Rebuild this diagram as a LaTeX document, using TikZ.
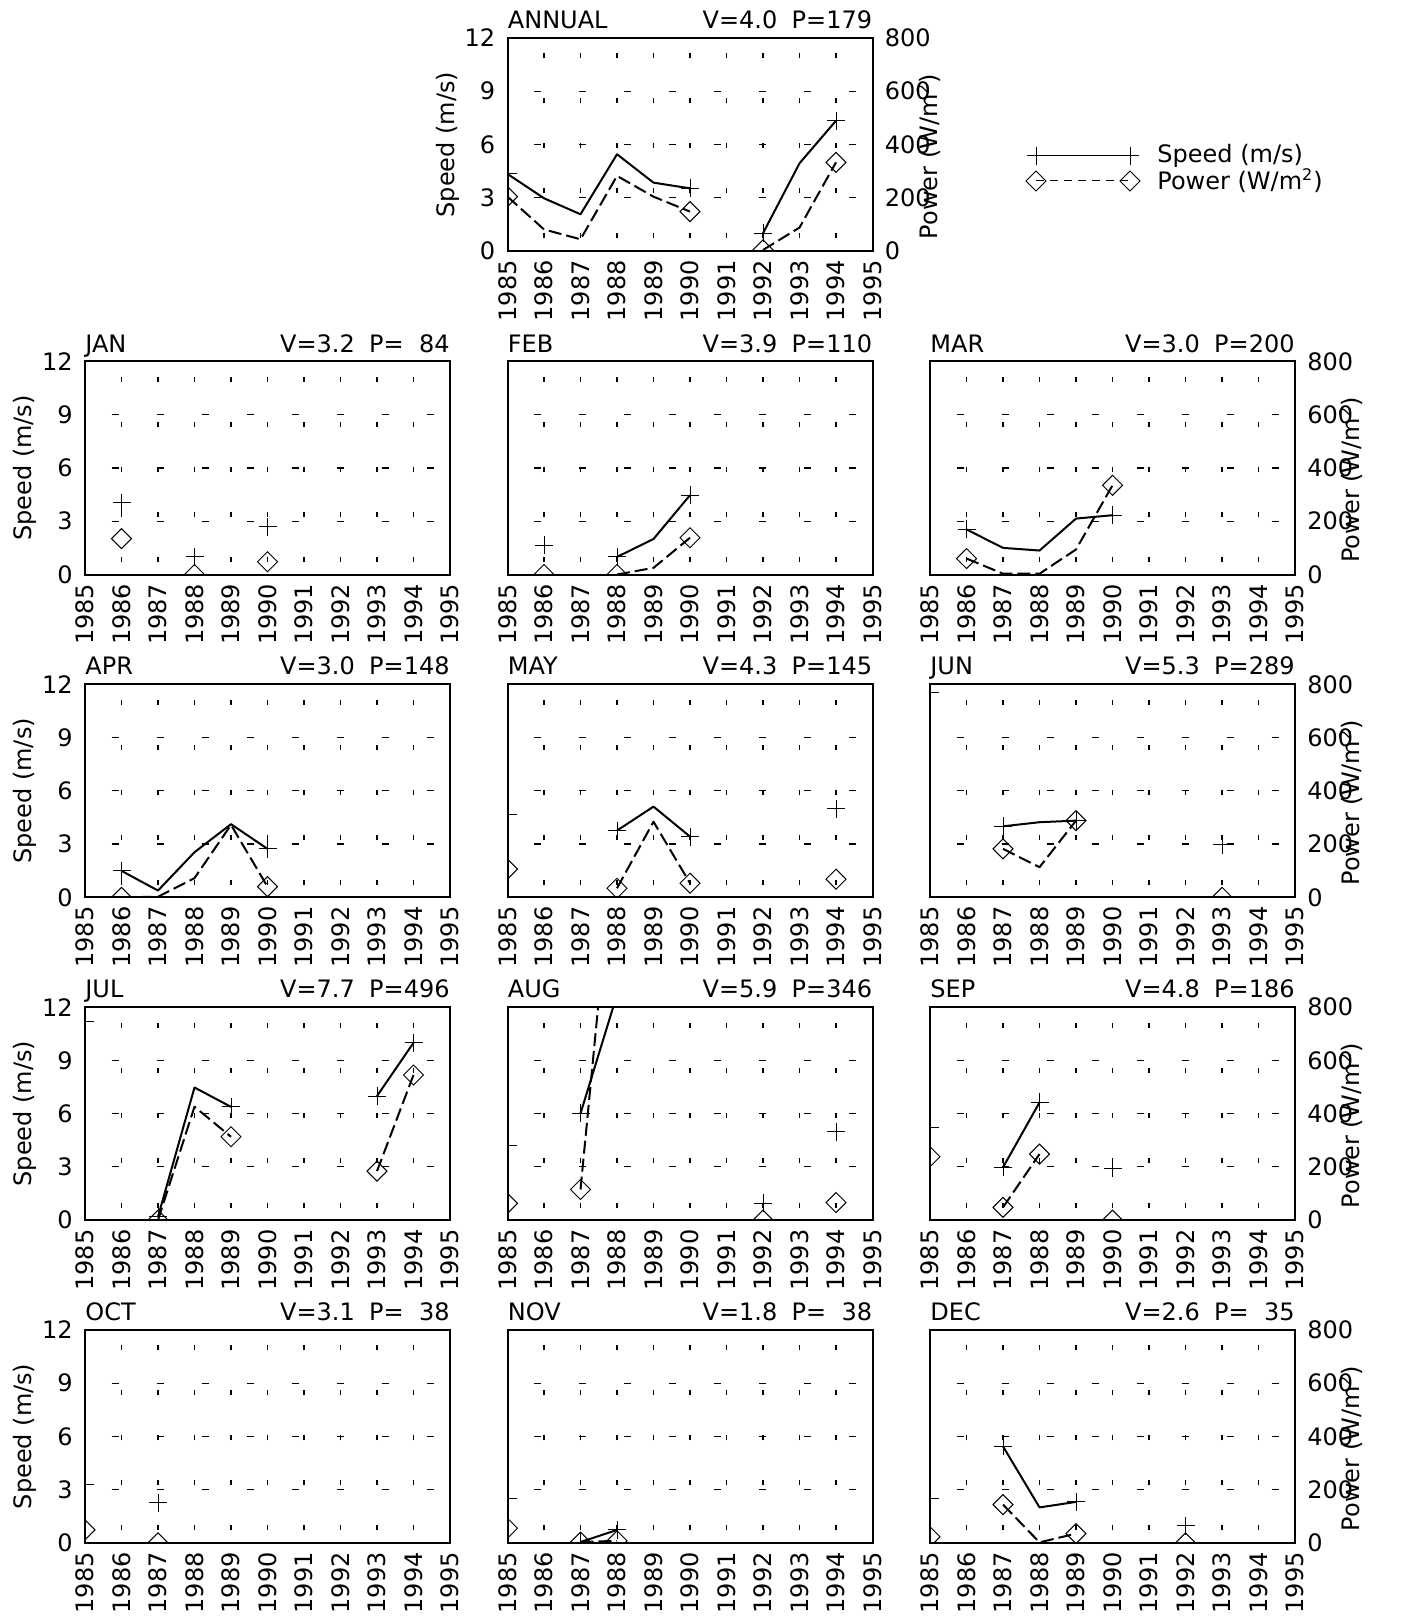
\documentclass[tikz,border=0pt]{standalone}
\usepackage{fontspec}
\setmainfont{DejaVu Sans}
\tikzset{
  yearpanel/.style 2 args={shift={(#1,#2)}, x=18.25pt, y=8.875pt, shift={(-85,0)}},
  pwrscale/.style={y=0.133125pt},
  boxline/.style={line width=1pt},
  gridv/.style={line width=0.6pt, dash pattern=on 2.5pt off 20pt, dash phase=16.25pt},
  gridh/.style={line width=0.6pt, dash pattern=on 3.5pt off 19pt, dash phase=9.15pt},
  spd/.style={line width=1pt, line join=round},
  pwr/.style={line width=1pt, line join=round, dash pattern=on 6.5pt off 2.5pt},
  mk/.style={line width=0.5pt},
  lab/.style={inner sep=0pt, font=\fontsize{12pt}{14pt}\selectfont},
  plus/.pic={\draw[mk] (-4.5pt,0) -- (4.5pt,0) (0,-4.5pt) -- (0,4.5pt);},
  dmnd/.pic={\draw[mk] (-5pt,0) -- (0,5pt) -- (5pt,0) -- (0,-5pt) -- cycle;}
}
\newcommand{\gap}{\hspace{0.6em}}
% frame, grid, titles and year labels of one panel
\newcommand{\panelbox}[3]{%
  \foreach \yr in {86,...,94} \draw[gridv] (\yr,0) -- (\yr,12);
  \foreach \v in {3,6,9} \draw[gridh] (85,\v) -- (95,\v);
  \draw[boxline] (85,0) rectangle (95,12);
  \node[lab, anchor=base west] (#1-month) at ([yshift=4.7pt]85,12) {#2};
  \node[lab, anchor=base east] (#1-stats) at ([yshift=4.7pt]95,12) {#3};
  \foreach \yr in {85,...,95}
    \node[lab, rotate=90, anchor=east] (#1-yr\yr) at ([yshift=-4.5pt]\yr,0) {19\yr};
}
\newcommand{\speedaxis}[1]{%
  \foreach \v in {0,3,...,12}
    \node[lab, anchor=east] (#1-s\v) at ([xshift=-6pt]85,\v) {\v};
  \node[lab, rotate=90] (#1-stitle) at ([xshift=-30pt]85,6) {Speed (m/s)};
}
\newcommand{\poweraxis}[1]{%
  \foreach \v/\p in {0/0,3/200,6/400,9/600,12/800}
    \node[lab, anchor=west] (#1-p\p) at ([xshift=6pt]95,\v) {\p};
  \node[lab, rotate=90] (#1-ptitle) at ([xshift=28pt,yshift=-6pt]95,6) {Power (W/m\textsuperscript{2})};
}
\newcommand{\speedline}[1]{\draw[spd] plot coordinates {#1};}
\newcommand{\powerline}[1]{\draw[pwr] plot coordinates {#1};}
\newcommand{\pluses}[1]{\foreach \yr/\v in {#1} \pic at (\yr,\v) {plus};}
\newcommand{\diamonds}[1]{\foreach \yr/\v in {#1} \pic at (\yr,\v) {dmnd};}

\begin{document}
\begin{tikzpicture}[x=0.5pt, y=-0.5pt]
\useasboundingbox (0,0) rectangle (1405,1620);

% ANNUAL
\begin{scope}[yearpanel={507.5}{251}]
  \panelbox{ann}{ANNUAL}{V=4.0\gap P=179}
  \speedaxis{ann}
  \poweraxis{ann}
  \begin{scope}
    \clip (85,0) rectangle (95,12);
    \speedline{(85,4.34) (86,2.97) (87,2.07) (88,5.45) (89,3.85) (90,3.53)}
    \speedline{(92,1.0) (93,4.94) (94,7.34)}
    \pluses{85/4.34, 90/3.53, 92/1.0, 94/7.34}
    \begin{scope}[pwrscale]
      \powerline{(85,204) (86,81) (87,44) (88,282) (89,204) (90,148)}
      \powerline{(92,4) (93,88) (94,333)}
      \diamonds{85/204, 90/148, 92/4, 94/333}
    \end{scope}
  \end{scope}
\end{scope}

% legend
\coordinate (legs-a) at (1036,155.7);
\coordinate (legs-b) at (1130,155.7);
\coordinate (legp-a) at (1036,181);
\coordinate (legp-b) at (1130,181);
\draw[mk] (legs-a) -- (legs-b);
\draw[mk, dash pattern=on 4pt off 3pt] (legp-a) -- (legp-b);
\pic at (legs-a) {plus};
\pic at (legs-b) {plus};
\pic at (legp-a) {dmnd};
\pic at (legp-b) {dmnd};
\node[lab, anchor=west] (leg-spd) at (1157,155.7) {Speed (m/s)};
\node[lab, anchor=west] (leg-pwr) at (1157,181) {Power (W/m\textsuperscript{2})};

% JAN
\begin{scope}[yearpanel={85}{574.5}]
  \panelbox{jan}{JAN}{V=3.2\gap P=\phantom{0}84}
  \speedaxis{jan}
  \begin{scope}
    \clip (85,0) rectangle (95,12);
    \pluses{86/4.03, 88/0.99, 90/2.68}
    \begin{scope}[pwrscale]
      \diamonds{86/135, 88/0, 90/48}
    \end{scope}
  \end{scope}
\end{scope}

% FEB
\begin{scope}[yearpanel={507.5}{574.5}]
  \panelbox{feb}{FEB}{V=3.9\gap P=110}
  \begin{scope}
    \clip (85,0) rectangle (95,12);
    \speedline{(88,0.99) (89,2.0) (90,4.47)}
    \pluses{86/1.65, 88/0.99, 90/4.47}
    \begin{scope}[pwrscale]
      \powerline{(88,0) (89,25) (90,138)}
      \diamonds{86/0, 88/0, 90/138}
    \end{scope}
  \end{scope}
\end{scope}

% MAR
\begin{scope}[yearpanel={930}{574.5}]
  \panelbox{mar}{MAR}{V=3.0\gap P=200}
  \poweraxis{mar}
  \begin{scope}
    \clip (85,0) rectangle (95,12);
    \speedline{(86,2.54) (87,1.5) (88,1.35) (89,3.15) (90,3.34)}
    \pluses{86/2.54, 90/3.34}
    \begin{scope}[pwrscale]
      \powerline{(86,60) (87,3) (88,3) (89,94) (90,335)}
      \diamonds{86/60, 90/335}
    \end{scope}
  \end{scope}
\end{scope}

% APR
\begin{scope}[yearpanel={85}{897.3}]
  \panelbox{apr}{APR}{V=3.0\gap P=148}
  \speedaxis{apr}
  \begin{scope}
    \clip (85,0) rectangle (95,12);
    \speedline{(86,1.49) (87,0.38) (88,2.54) (89,4.12) (90,2.73)}
    \pluses{86/1.49, 90/2.73}
    \begin{scope}[pwrscale]
      \powerline{(86,0) (87,2) (88,72) (89,272) (90,40)}
      \diamonds{86/0, 90/40}
    \end{scope}
  \end{scope}
\end{scope}

% MAY
\begin{scope}[yearpanel={507.5}{897.3}]
  \panelbox{may}{MAY}{V=4.3\gap P=145}
  \begin{scope}
    \clip (85,0) rectangle (95,12);
    \speedline{(88,3.76) (89,5.11) (90,3.42)}
    \pluses{85/4.68, 88/3.76, 90/3.42, 94/4.98}
    \begin{scope}[pwrscale]
      \powerline{(88,34) (89,284) (90,53)}
      \diamonds{85/106, 88/34, 90/53, 94/68}
    \end{scope}
  \end{scope}
\end{scope}

% JUN
\begin{scope}[yearpanel={930}{897.3}]
  \panelbox{jun}{JUN}{V=5.3\gap P=289}
  \poweraxis{jun}
  \begin{scope}
    \clip (85,0) rectangle (95,12);
    \speedline{(87,4.0) (88,4.23) (89,4.32)}
    \pluses{85/11.56, 87/4.0, 89/4.32, 93/2.97}
    \begin{scope}[pwrscale]
      \powerline{(87,182) (88,113) (89,288)}
      \diamonds{87/182, 89/288, 93/0}
    \end{scope}
  \end{scope}
\end{scope}

% JUL
\begin{scope}[yearpanel={85}{1220.1}]
  \panelbox{jul}{JUL}{V=7.7\gap P=496}
  \speedaxis{jul}
  \begin{scope}
    \clip (85,0) rectangle (95,12);
    \speedline{(87,0.19) (88,7.47) (89,6.38)}
    \speedline{(93,6.99) (94,9.99)}
    \pluses{85/11.2, 87/0.19, 89/6.38, 93/6.99, 94/9.99}
    \begin{scope}[pwrscale]
      \powerline{(87,0) (88,426) (89,313)}
      \powerline{(93,184) (94,545)}
      \diamonds{87/0, 89/313, 93/184, 94/545}
    \end{scope}
  \end{scope}
\end{scope}

% AUG
\begin{scope}[yearpanel={507.5}{1220.1}]
  \panelbox{aug}{AUG}{V=5.9\gap P=346}
  \begin{scope}
    \clip (85,0) rectangle (95,12);
    \speedline{(87,6.01) (88,12.7)}
    \pluses{85/4.23, 87/6.01, 92/0.94, 94/4.98}
    \begin{scope}[pwrscale]
      \powerline{(87,115) (88,1537)}
      \diamonds{85/63, 87/115, 92/0, 94/66}
    \end{scope}
  \end{scope}
\end{scope}

% SEP
\begin{scope}[yearpanel={930}{1220.1}]
  \panelbox{sep}{SEP}{V=4.8\gap P=186}
  \poweraxis{sep}
  \begin{scope}
    \clip (85,0) rectangle (95,12);
    \speedline{(87,2.97) (88,6.63)}
    \pluses{85/5.2, 87/2.97, 88/6.63, 90/2.91}
    \begin{scope}[pwrscale]
      \powerline{(87,48) (88,248)}
      \diamonds{85/238, 87/48, 88/248, 90/0}
    \end{scope}
  \end{scope}
\end{scope}

% OCT
\begin{scope}[yearpanel={85}{1542.9}]
  \panelbox{oct}{OCT}{V=3.1\gap P=\phantom{0}38}
  \speedaxis{oct}
  \begin{scope}
    \clip (85,0) rectangle (95,12);
    \pluses{85/3.3, 87/2.27}
    \begin{scope}[pwrscale]
      \diamonds{85/49, 87/0}
    \end{scope}
  \end{scope}
\end{scope}

% NOV
\begin{scope}[yearpanel={507.5}{1542.9}]
  \panelbox{nov}{NOV}{V=1.8\gap P=\phantom{0}38}
  \begin{scope}
    \clip (85,0) rectangle (95,12);
    \speedline{(87,0.05) (88,0.73)}
    \pluses{85/2.5, 87/0.05, 88/0.73}
    \begin{scope}[pwrscale]
      \powerline{(87,3) (88,8)}
      \diamonds{85/55, 87/3, 88/8}
    \end{scope}
  \end{scope}
\end{scope}

% DEC
\begin{scope}[yearpanel={930}{1542.9}]
  \panelbox{dec}{DEC}{V=2.6\gap P=\phantom{0}35}
  \poweraxis{dec}
  \begin{scope}
    \clip (85,0) rectangle (95,12);
    \speedline{(87,5.44) (88,2.0) (89,2.31)}
    \pluses{85/2.53, 87/5.44, 89/2.31, 92/0.97}
    \begin{scope}[pwrscale]
      \powerline{(87,144) (88,2) (89,35)}
      \diamonds{85/23, 87/144, 89/35, 92/0}
    \end{scope}
  \end{scope}
\end{scope}

\end{tikzpicture}
\end{document}
